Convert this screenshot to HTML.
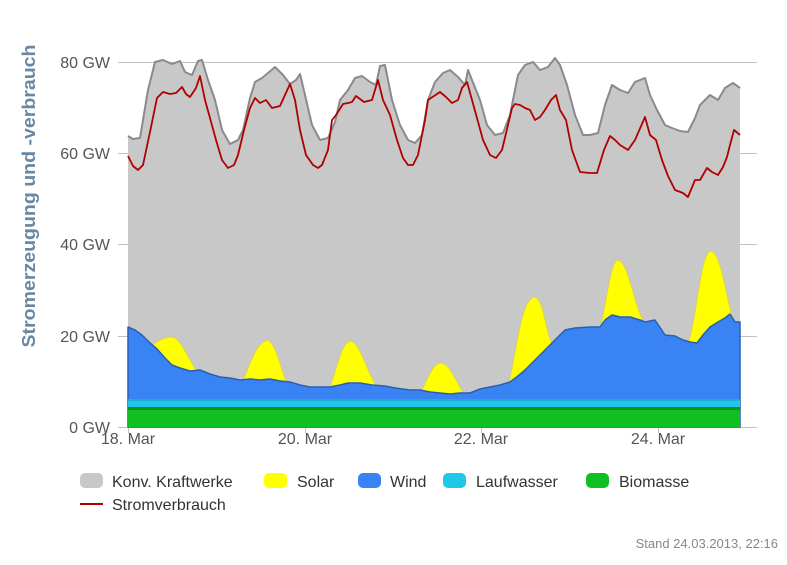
<!DOCTYPE html>
<html><head><meta charset="utf-8"><style>
body{margin:0;background:#fff;width:787px;height:560px;overflow:hidden;font-family:"Liberation Sans",sans-serif}
</style></head><body>
<svg width="787" height="560" xmlns="http://www.w3.org/2000/svg" font-family="Liberation Sans, sans-serif">
<g stroke="#c0c0c0" stroke-width="1">
<line x1="118" y1="62.5" x2="757" y2="62.5"/><line x1="118" y1="153.5" x2="757" y2="153.5"/>
<line x1="118" y1="244.5" x2="757" y2="244.5"/><line x1="118" y1="336.5" x2="757" y2="336.5"/>
<line x1="118" y1="427.5" x2="757" y2="427.5"/>
<line x1="128.5" y1="427" x2="128.5" y2="433"/><line x1="305.5" y1="427" x2="305.5" y2="433"/>
<line x1="481.5" y1="427" x2="481.5" y2="433"/><line x1="658.5" y1="427" x2="658.5" y2="433"/>
</g>
<polygon fill="#c8c8c8" points="128,427 128,136 133,139 140,138 148,90 155,62 163,60 172,64 180,61 185,72 192,75 198,61 202,60 208,80 215,100 222,130 230,144 238,140 243,130 250,98 255,82 262,78 268,73 275,67 283,75 290,84 296,80 300,74 305,95 312,125 320,140 328,138 335,122 340,100 348,90 355,78 362,76 370,82 376,85 380,66 385,65 392,100 400,125 408,140 415,143 422,135 428,100 435,82 443,73 450,70 458,77 465,85 468,70 472,80 480,100 487,125 495,135 503,133 510,115 518,75 525,65 533,62 540,70 548,67 555,58 560,65 567,85 575,115 583,135 590,135 598,133 605,105 612,85 620,90 628,93 635,82 645,78 650,95 657,110 665,125 672,128 680,131 688,132 695,118 700,105 710,95 718,100 725,88 733,83 740,88 740,427"/>
<polyline fill="none" stroke="#8a8a8a" stroke-width="2" stroke-linejoin="round" points="128,136 133,139 140,138 148,90 155,62 163,60 172,64 180,61 185,72 192,75 198,61 202,60 208,80 215,100 222,130 230,144 238,140 243,130 250,98 255,82 262,78 268,73 275,67 283,75 290,84 296,80 300,74 305,95 312,125 320,140 328,138 335,122 340,100 348,90 355,78 362,76 370,82 376,85 380,66 385,65 392,100 400,125 408,140 415,143 422,135 428,100 435,82 443,73 450,70 458,77 465,85 468,70 472,80 480,100 487,125 495,135 503,133 510,115 518,75 525,65 533,62 540,70 548,67 555,58 560,65 567,85 575,115 583,135 590,135 598,133 605,105 612,85 620,90 628,93 635,82 645,78 650,95 657,110 665,125 672,128 680,131 688,132 695,118 700,105 710,95 718,100 725,88 733,83 740,88"/>
<g fill="#ffff00" stroke="#d8d060" stroke-width="1">
<path d="M152,427 L152,345 C160,340 164,337 172,337 C180,338 185,352 196,370 L196,427Z"/>
<path d="M243,427 L243,380 C252,360 256,343 268,340 C275,343 280,365 286,381 L286,427Z"/>
<path d="M330,427 L330,387 C338,365 342,341 351,341 C360,343 366,370 376,385 L376,427Z"/>
<path d="M421,427 L421,392 C428,378 433,363 441,363 C450,364 455,380 464,394 L464,427Z"/>
<path d="M509,427 L509,384 C518,340 522,298 535,297 C545,300 546,340 554,345 L554,427Z"/>
<path d="M600,427 L600,328 C607,300 611,260 618,260 C628,262 633,300 642,318 L642,427Z"/>
<path d="M688,427 L688,343 C697,320 700,252 711,251 C722,254 726,300 733,318 L733,427Z"/>
</g>
<polygon fill="#3a83f5" stroke="#2a5fb0" stroke-width="1.5" stroke-linejoin="round" points="128,427 128,327 135,330 142,335 150,343 157,349 165,358 172,365 180,368 190,371 200,370 210,374 220,377 230,378 240,380 250,379 260,380 270,379 280,381 290,382 300,385 310,387 320,387 330,387 340,385 348,383 360,383 372,385 385,386 395,388 410,390 420,390 430,392 440,393 450,394 460,393 470,393 480,389 490,387 500,385 510,382 518,376 525,370 535,360 545,350 555,340 565,330 575,328 590,327 600,327 605,320 612,315 620,317 630,317 640,320 645,322 655,320 665,335 675,336 683,340 690,342 697,343 703,335 710,327 718,322 725,318 730,314 735,322 740,322 740,427"/>
<rect x="128" y="399" width="612" height="8" fill="#1ec8e8"/>
<line x1="128" y1="400" x2="740" y2="400" stroke="#20a0d0" stroke-width="1.5"/>
<rect x="128" y="407" width="612" height="20" fill="#10c020"/>
<rect x="128" y="407" width="612" height="3" fill="#0a9018"/>
<polyline fill="none" stroke="#b00000" stroke-width="1.8" stroke-linejoin="round" points="128,156 133,166 138,170 143,165 150,132 157,98 163,92 170,94 176,93 182,87 186,94 190,97 196,88 200,76 205,100 210,118 216,140 222,160 228,168 234,165 238,155 244,130 250,108 255,98 260,103 266,100 272,108 280,106 285,95 290,84 295,100 300,130 306,155 313,165 318,168 322,165 328,150 332,120 336,115 343,104 348,103 352,102 356,96 364,102 372,100 378,80 383,100 390,115 397,140 403,158 408,165 413,165 418,155 425,120 428,100 434,96 440,92 446,97 452,103 458,100 462,88 467,82 472,100 477,118 483,140 490,155 496,158 502,150 508,125 512,108 515,104 520,105 525,108 530,110 535,120 540,117 545,110 551,100 556,95 560,110 566,120 572,150 580,172 590,173 597,173 604,150 610,136 615,140 620,145 628,150 635,140 645,117 650,135 656,140 662,160 668,176 675,190 683,193 688,197 695,180 700,180 707,168 712,172 718,175 723,167 727,157 730,145 734,130 740,135"/>
<g fill="#555" font-size="16" text-anchor="end">
<text x="110" y="68">80 GW</text><text x="110" y="159">60 GW</text><text x="110" y="250">40 GW</text>
<text x="110" y="342">20 GW</text><text x="110" y="433">0 GW</text></g>
<g fill="#555" font-size="16" text-anchor="middle">
<text x="128" y="444">18. Mar</text><text x="305" y="444">20. Mar</text>
<text x="481" y="444">22. Mar</text><text x="658" y="444">24. Mar</text></g>
<text transform="translate(35,196) rotate(-90)" text-anchor="middle" fill="#6a88a3" font-size="18" font-weight="bold" textLength="303" lengthAdjust="spacingAndGlyphs">Stromerzeugung und -verbrauch</text>
<g font-size="16" fill="#333">
<rect x="80" y="473" width="23" height="15" rx="5" fill="#c8c8c8"/><text x="112" y="487">Konv. Kraftwerke</text>
<rect x="264" y="473" width="23" height="15" rx="5" fill="#ffff00"/><text x="297" y="487">Solar</text>
<rect x="358" y="473" width="23" height="15" rx="5" fill="#3a83f5"/><text x="390" y="487">Wind</text>
<rect x="443" y="473" width="23" height="15" rx="5" fill="#1ec8e8"/><text x="476" y="487">Laufwasser</text>
<rect x="586" y="473" width="23" height="15" rx="5" fill="#10c020"/><text x="619" y="487">Biomasse</text>
<line x1="80" y1="504" x2="103" y2="504" stroke="#b00000" stroke-width="2"/><text x="112" y="510">Stromverbrauch</text>
</g>
<text x="778" y="548" text-anchor="end" fill="#888" font-size="13">Stand 24.03.2013, 22:16</text>
</svg>
</body></html>
